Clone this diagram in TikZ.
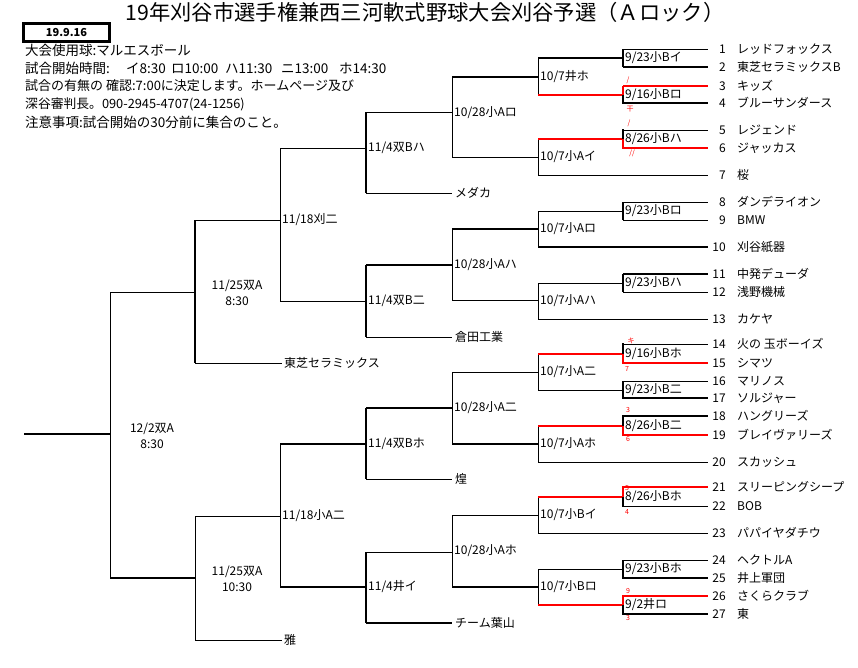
\documentclass[tikz,border=0pt]{standalone}
\usepackage{fontspec}
\setmainfont{Noto Sans CJK JP}
\definecolor{xred}{RGB}{255,0,0}
\begin{document}
\begin{tikzpicture}[x=1pt,y=-1pt,
  every node/.style={font=\fontsize{12}{14}\selectfont, inner sep=0pt},
  thinl/.style={line width=1pt, black},
  medl/.style={line width=2.2pt, black},
  redl/.style={line width=2.2pt, xred},
  lbl/.style={anchor=west},
  info/.style={anchor=west, font=\fontsize{13.5}{15}\selectfont},
  num/.style={anchor=east},
  team/.style={anchor=west},
  score/.style={font=\fontsize{7}{8}\selectfont, text=xred},
  boxl/.style={line width=2.6pt, black}]
\useasboundingbox[fill=white] (0,0) rectangle (858,667);

% ---------- header ----------
\node[font=\fontsize{21.3}{24}\selectfont] (title) at (425,12) {19年刈谷市選手権兼西三河軟式野球大会刈谷予選（Ａロック）};
\node[boxl, draw, minimum width=86pt, minimum height=18pt, font=\bfseries\fontsize{11}{12}\selectfont] (date) at (66.5,32.5) {19.9.16};
\node[info] (i1) at (25,50) {大会使用球:マルエスボール};
\node[info] (i2) at (25,68) {\makebox[101pt][l]{試合開始時間:}\makebox[45pt][l]{イ8:30}\makebox[54pt][l]{ロ10:00}\makebox[56pt][l]{ハ11:30}\makebox[58pt][l]{ニ13:00}ホ14:30};
\node[info, font=\fontsize{13}{15}\selectfont] (i3) at (25,86) {試合の有無の 確認:7:00に決定します。ホームページ及び};
\node[info, font=\fontsize{12.8}{15}\selectfont] (i4) at (25,104) {深谷審判長。090-2945-4707(24-1256)};
\node[info] (i5) at (25,122) {注意事項:試合開始の30分前に集合のこと。};

% ---------- root / final ----------
\draw[medl] (24,434) -- (110,434);
\draw[thinl] (110,292) -- (110,578);
\draw[thinl] (110,292) -- (195,292);
\draw[medl] (110,578) -- (195,578);
\node[align=center] (f) at (152,436) {12/2双A\\[2pt]8:30};

% ---------- upper half ----------
\draw[medl] (195,220) -- (195,363);
\draw[thinl] (195,220) -- (280,220);
\draw[thinl] (195,363) -- (282,363);
\node[align=center] (sf1) at (237,293) {11/25双A\\[2pt]8:30};
\node[lbl] (toshiba) at (284,363) {東芝セラミックス};

\draw[thinl] (280,148) -- (280,301);
\draw[thinl] (280,148) -- (366,148);
\draw[thinl] (280,301) -- (366,301);
\node[lbl] (q1) at (282,220) {11/18刈二};

\draw[medl] (366,112) -- (366,193);
\draw[thinl] (366,112) -- (452,112);
\draw[thinl] (366,193) -- (452,193);
\node[lbl] (r1) at (368,148) {11/4双Bハ};
\node[lbl] (medaka) at (455,193) {メダカ};

\draw[thinl] (452,77) -- (452,157);
\draw[medl] (452,77) -- (538,77);
\draw[thinl] (452,157) -- (538,157);
\node[lbl] (s1) at (454,113) {10/28小Aロ};

\draw[thinl] (538,58) -- (538,95);
\draw[medl] (538,58) -- (623,58);
\draw[redl] (538,95) -- (623,95);
\node[lbl] (t1) at (540,77) {10/7井ホ};

\draw[thinl] (538,139) -- (538,175);
\draw[redl] (538,139) -- (623,139);
\draw[thinl] (538,175) -- (708,175);
\node[lbl] (t2) at (540,157) {10/7小Aイ};

\draw[medl] (366,265) -- (366,337);
\draw[medl] (366,265) -- (452,265);
\draw[thinl] (366,337) -- (452,337);
\node[lbl] (r2) at (368,301) {11/4双B二};
\node[lbl] (kurata) at (455,337) {倉田工業};

\draw[thinl] (452,229) -- (452,300);
\draw[medl] (452,229) -- (538,229);
\draw[thinl] (452,300) -- (538,300);
\node[lbl] (s2) at (454,265) {10/28小Aハ};

\draw[thinl] (538,211) -- (538,247);
\draw[thinl] (538,211) -- (623,211);
\draw[medl] (538,247) -- (708,247);
\node[lbl] (t3) at (540,229) {10/7小Aロ};

\draw[thinl] (538,283) -- (538,319);
\draw[thinl] (538,283) -- (623,283);
\draw[thinl] (538,319) -- (708,319);
\node[lbl] (t4) at (540,301) {10/7小Aハ};

% first-round boxes (upper)
\draw[boxl] (623,49) -- (623,67);
\draw[thinl] (623,49) -- (708,49);
\draw[medl] (623,67) -- (708,67);
\node[lbl] (b1) at (625,58) {9/23小Bイ};

\draw[redl] (623,86) -- (623,95);
\draw[boxl] (623,95) -- (623,104);
\draw[redl] (623,86) -- (708,86);
\draw[medl] (623,103) -- (708,103);
\node[lbl] (b2) at (625,95) {9/16小Bロ};
\node[score] (sc2a) at (628,80) {/};
\node[score] (sc2b) at (630,109) {干};

\draw[boxl] (623,129) -- (623,139);
\draw[redl] (623,139) -- (623,149);
\draw[thinl] (623,130) -- (708,130);
\draw[redl] (623,148) -- (708,148);
\node[lbl] (b3) at (625,139) {8/26小Bハ};
\node[score] (sc3a) at (629,123) {/};
\node[score] (sc3b) at (632,153) {//};

\draw[boxl] (623,202) -- (623,220);
\draw[thinl] (623,202) -- (708,202);
\draw[thinl] (623,220) -- (708,220);
\node[lbl] (b4) at (625,211) {9/23小Bロ};

\draw[boxl] (623,274) -- (623,292);
\draw[medl] (623,274) -- (708,274);
\draw[thinl] (623,292) -- (708,292);
\node[lbl] (b5) at (625,283) {9/23小Bハ};

% ---------- lower half ----------
\draw[thinl] (195,516) -- (195,640);
\draw[thinl] (195,516) -- (280,516);
\draw[thinl] (195,640) -- (282,640);
\node[align=center] (sf2) at (237,579) {11/25双A\\[2pt]10:30};
\node[lbl] (miyabi) at (284,640) {雅};

\draw[thinl] (280,444) -- (280,587);
\draw[medl] (280,444) -- (366,444);
\draw[medl] (280,587) -- (366,587);
\node[lbl] (q2) at (282,516) {11/18小A二};

\draw[medl] (366,408) -- (366,479);
\draw[medl] (366,408) -- (452,408);
\draw[thinl] (366,479) -- (452,479);
\node[lbl] (r3) at (368,444) {11/4双Bホ};
\node[lbl] (kou) at (455,479) {煌};

\draw[thinl] (452,372) -- (452,444);
\draw[thinl] (452,372) -- (538,372);
\draw[medl] (452,444) -- (538,444);
\node[lbl] (s3) at (454,408) {10/28小A二};

\draw[thinl] (538,354) -- (538,390);
\draw[redl] (538,354) -- (623,354);
\draw[thinl] (538,390) -- (623,390);
\node[lbl] (t5) at (540,372) {10/7小A二};

\draw[thinl] (538,426) -- (538,462);
\draw[redl] (538,426) -- (623,426);
\draw[thinl] (538,462) -- (708,462);
\node[lbl] (t6) at (540,444) {10/7小Aホ};

\draw[medl] (366,552) -- (366,623);
\draw[thinl] (366,552) -- (452,552);
\draw[medl] (366,623) -- (452,623);
\node[lbl] (r4) at (368,587) {11/4井イ};
\node[lbl] (hayama) at (455,623) {チーム葉山};

\draw[thinl] (452,515) -- (452,587);
\draw[thinl] (452,515) -- (538,515);
\draw[medl] (452,587) -- (538,587);
\node[lbl] (s4) at (454,551) {10/28小Aホ};

\draw[thinl] (538,497) -- (538,533);
\draw[redl] (538,497) -- (623,497);
\draw[thinl] (538,533) -- (708,533);
\node[lbl] (t7) at (540,515) {10/7小Bイ};

\draw[thinl] (538,569) -- (538,605);
\draw[thinl] (538,569) -- (623,569);
\draw[redl] (538,605) -- (623,605);
\node[lbl] (t8) at (540,587) {10/7小Bロ};

% first-round boxes (lower)
\draw[boxl] (623,343) -- (623,354);
\draw[redl] (623,354) -- (623,364);
\draw[thinl] (623,344) -- (708,344);
\draw[redl] (623,363) -- (708,363);
\node[lbl] (b6) at (625,354) {9/16小Bホ};
\node[score] (sc6a) at (631,341) {キ};
\node[score] (sc6b) at (627,369) {7};

\draw[boxl] (623,381) -- (623,399);
\draw[thinl] (623,381) -- (708,381);
\draw[medl] (623,398) -- (708,398);
\node[lbl] (b7) at (625,390) {9/23小B二};

\draw[boxl] (623,415) -- (623,426);
\draw[redl] (623,426) -- (623,436);
\draw[medl] (623,416) -- (708,416);
\draw[redl] (623,435) -- (708,435);
\node[lbl] (b8) at (625,426) {8/26小B二};
\node[score] (sc8a) at (628,410) {3};
\node[score] (sc8b) at (628,439) {6};

\draw[redl] (623,486) -- (623,497);
\draw[boxl] (623,497) -- (623,507);
\draw[redl] (623,487) -- (708,487);
\draw[thinl] (623,506) -- (708,506);
\node[lbl] (b9) at (625,497) {8/26小Bホ};
\node[score] (sc9a) at (627,488) {5};
\node[score] (sc9b) at (627,512) {4};

\draw[boxl] (623,560) -- (623,579);
\draw[thinl] (623,560) -- (708,560);
\draw[medl] (623,578) -- (708,578);
\node[lbl] (b10) at (625,569) {9/23小Bホ};

\draw[redl] (623,595) -- (623,605);
\draw[boxl] (623,605) -- (623,615);
\draw[redl] (623,596) -- (708,596);
\draw[medl] (623,614) -- (708,614);
\node[lbl] (b11) at (625,605) {9/2井ロ};
\node[score] (sc11a) at (628,591) {9};
\node[score] (sc11b) at (628,618) {3};

% ---------- team list ----------
\foreach \n/\y/\name in {1/49/レッドフォックス, 2/67/東芝セラミックスB, 3/86/キッズ,
  4/103/ブルーサンダース, 5/130/レジェンド, 6/148/ジャッカス, 7/175/桜,
  8/202/ダンデライオン, 9/220/BMW, 10/247/刈谷紙器, 11/274/中発デューダ,
  12/292/浅野機械, 13/319/カケヤ, 14/344/火の 玉ボーイズ, 15/363/シマツ,
  16/381/マリノス, 17/398/ソルジャー, 18/416/ハングリーズ, 19/435/ブレイヴァリーズ,
  20/462/スカッシュ, 21/487/スリーピングシープ, 22/506/BOB, 23/533/パパイヤダチウ,
  24/560/ヘクトルA, 25/578/井上軍団, 26/596/さくらクラブ, 27/614/東}
{
  \node[num] (n\n) at (726,\y) {\n};
  \node[team] (tm\n) at (737,\y) {\name};
}
\end{tikzpicture}
\end{document}
